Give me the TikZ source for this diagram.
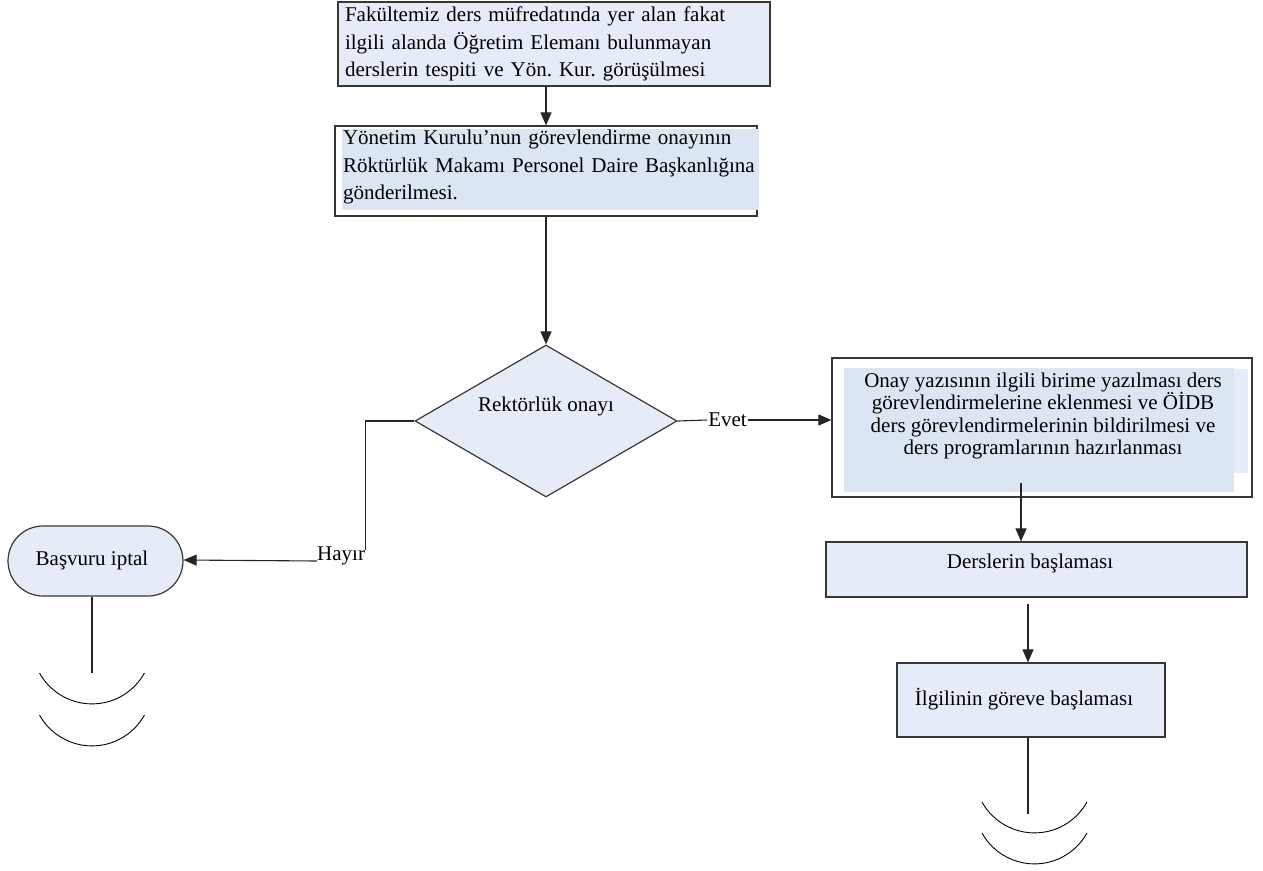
\documentclass[tikz,border=0pt]{standalone}
\usepackage{fontspec}
\setmainfont{Liberation Serif}
\usetikzlibrary{arrows.meta,shapes.geometric,calc}
\definecolor{fillA}{RGB}{230,236,247}
\definecolor{fillB}{RGB}{220,230,242}
\definecolor{edgec}{RGB}{55,55,55}
\frenchspacing
\begin{document}
\begin{tikzpicture}[x=1pt,y=-1pt,
  every node/.style={font=\fontsize{21}{27.5}\selectfont},
  boxst/.style={draw=edgec,line width=1.2pt,fill=fillA,inner sep=0pt},
  conn/.style={draw=black!85,line width=1.1pt},
  arr/.style={conn,-{Triangle[length=13pt,width=11pt]}},
  endarc/.style={draw=black,line width=0.9pt}]
\useasboundingbox[fill=white] (0,0) rectangle (1263,870);

% box 1
\node[boxst,minimum width=432pt,minimum height=84pt,text width=418pt,align=left,inner xsep=7pt] (b1) at (554,44)
  {Fakültemiz ders müfredatında yer alan fakat\\ilgili alanda Öğretim Elemanı bulunmayan\\derslerin tespiti ve Yön. Kur. görüşülmesi};

% box 2
\node[draw=edgec,line width=1.2pt,fill=white,minimum width=422pt,minimum height=90pt] (b2) at (546,171) {};
\fill[fillB] (342,129) rectangle (759,210);
\node[text width=414pt,align=left,inner sep=0pt] (b2t) at (550,167)
  {Yönetim Kurulu’nun görevlendirme onayının\\Röktürlük Makamı Personel Daire Başkanlığına\\gönderilmesi.};

% decision
\node[boxst,shape=diamond,minimum width=262pt,minimum height=152pt] (d) at (546,421) {};
\node[inner sep=0pt] (dt) at (546,406) {Rektörlük onayı};

% box 3
\node[draw=edgec,line width=1.2pt,fill=white,minimum width=420pt,minimum height=139pt] (b3) at (1042,427.5) {};
\fill[fillA] (844,369) rectangle (1248,473);
\fill[fillB] (844,368) rectangle (1234,492);
\node[align=center,inner sep=0pt,font=\fontsize{21}{22.3}\selectfont] (b3t) at (1043,416)
  {Onay yazısının ilgili birime yazılması ders\\görevlendirmelerine eklenmesi ve ÖİDB\\ders görevlendirmelerinin bildirilmesi ve\\ders programlarının hazırlanması};

% Derslerin
\node[boxst,minimum width=421pt,minimum height=55pt] (ders) at (1036.5,569.5) {};
\node[inner sep=0pt] (derst) at (1030,563) {Derslerin başlaması};

% Ilgilinin
\node[boxst,minimum width=268pt,minimum height=74pt] (ilg) at (1031,700) {};
\node[inner sep=0pt] (ilgt) at (1024,699) {İlgilinin göreve başlaması};

% Basvuru iptal
\node[boxst,minimum width=175pt,minimum height=70pt,rounded corners=35pt] (bas) at (95.5,561) {};
\node[inner sep=0pt] (bast) at (92,560) {Başvuru iptal};

% labels
\node[inner sep=1pt] (evet) at (727.5,420) {Evet};
\node[inner sep=0pt,anchor=base west] (hayir) at (317,560) {Hayır};

% connectors
\path (d.north |- b1.south) coordinate (a1s);
\draw[arr] (a1s) -- (d.north |- b2.north);
\draw[arr] (d.north |- b2.south) -- (d.north);
\draw[conn] (d.east) -- (evet.west);
\draw[arr] (evet.east) -- (evet.east -| b3.west);
\draw[conn] (d.west) -| ($(hayir.north east)+(0,4)$);
\draw[arr] ($(hayir.base west)+(0,1)$) -- (bas.east |- hayir.base);
\draw[arr] ($(b3.south)+(-21,-15)$) coordinate (b3s) -- (b3s |- ders.north);
\draw[arr] ($(ders.south)+(-8.5,6)$) coordinate (dss) -- (dss |- ilg.north);
\coordinate (e2) at (1028,814);
\draw[conn] (ilg.south -| e2) -- (e2);
\coordinate (e1) at (92,673);
\draw[conn] (bas.south -| e1) -- (e1);

% end connector arcs
\draw[endarc] (39.5,673) arc[start angle=151, end angle=29, radius=60];
\draw[endarc] (39.5,715) arc[start angle=151, end angle=29, radius=60];
\draw[endarc] (982,802) arc[start angle=151, end angle=29, radius=60];
\draw[endarc] (982,833) arc[start angle=151, end angle=29, radius=60];
\end{tikzpicture}
\end{document}
